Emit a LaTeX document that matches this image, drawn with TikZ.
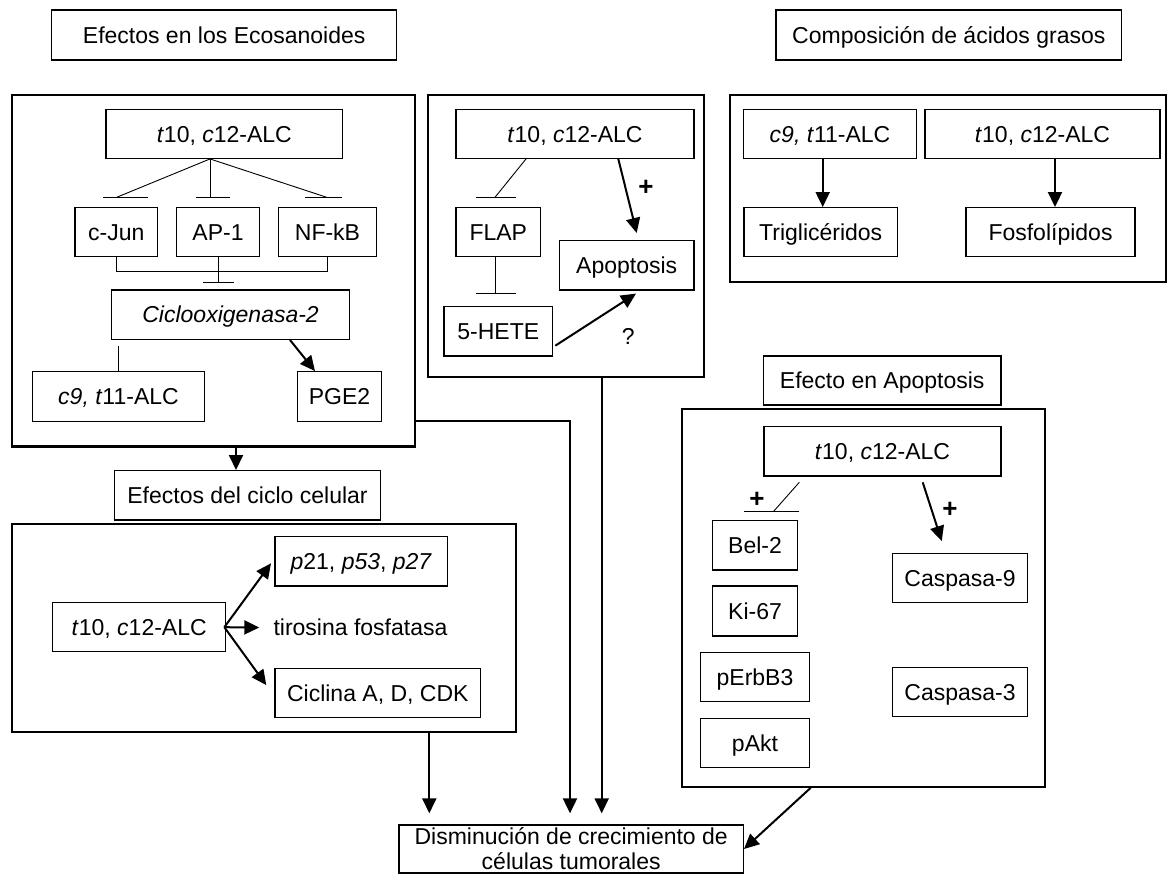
\documentclass[tikz,border=0pt]{standalone}
\usepackage{fontspec}
\setmainfont{Liberation Sans}
\usetikzlibrary{arrows.meta}
\newcommand\figfont{\fontsize{23}{27}\selectfont}
\begin{document}
\begin{tikzpicture}[x=1pt,y=-1pt,
  bx/.style={draw, line width=1.3pt, inner sep=0pt, font=\figfont, text height=16.5pt, text depth=0pt},
  panel/.style={draw, line width=2.2pt, inner sep=0pt},
  txt/.style={font=\figfont, inner sep=0pt, text height=16.5pt, text depth=0pt},
  sign/.style={font=\fontsize{26}{28}\selectfont\bfseries, inner sep=0pt},
  inh/.style={line width=0.9pt},
  arr/.style={line width=2pt, -{Triangle[length=15pt,width=14pt]}}]
\useasboundingbox (0,0) rectangle (1169,874);

% ---------- titles ----------
\node[bx, minimum width=345, minimum height=50] (tEco) at (224.2,35) {Efectos en los Ecosanoides};
\node[bx, minimum width=345.7, minimum height=50] (tComp) at (948.8,35) {Composición de ácidos grasos};
\node[bx, minimum width=266.4, minimum height=49.3] (tCiclo) at (247.5,495.3) {Efectos del ciclo celular};
\node[bx, minimum width=237.7, minimum height=49] (tApop) at (882.2,380.5) {Efecto en Apoptosis};

% ---------- panels ----------
\node[panel, minimum width=403.3, minimum height=351.5] (pEco) at (213.35,270.75) {};
\node[panel, minimum width=275.7, minimum height=281.7] (pMid) at (566.15,235.85) {};
\node[panel, minimum width=436, minimum height=186.7] (pComp) at (948,188.35) {};
\node[panel, minimum width=504.3, minimum height=207.7] (pCiclo) at (263.85,627.85) {};
\node[panel, minimum width=363.3, minimum height=377.4] (pApop) at (863.35,598) {};

% ---------- Eicosanoid panel ----------
\node[bx, minimum width=236.7, minimum height=49] (eALC) at (224.3,133.8) {\textit{t}10, \textit{c}12-ALC};
\node[bx, minimum width=82.7, minimum height=49] (cJun) at (116.3,232.2) {c-Jun};
\node[bx, minimum width=82.6, minimum height=49] (AP1) at (218,232.2) {AP-1};
\node[bx, minimum width=98.4, minimum height=49] (NFkB) at (327.5,232.2) {NF-kB};
\node[bx, minimum width=237.8, minimum height=49.3] (COX) at (230.6,314.7) {\textit{Ciclooxigenasa-2}};
\node[bx, minimum width=172.6, minimum height=50] (c9) at (118.5,396.7) {\textit{c9, t}11-ALC};
\node[bx, minimum width=84.1, minimum height=50] (PGE2) at (339.5,396.7) {PGE2};

\coordinate (eo) at ([xshift=-14.3pt]eALC.south);
\coordinate (hJ) at (116.7,197.3);
\coordinate (hA) at (210,197.3);
\coordinate (hN) at (326.7,197.3);
\draw[inh] (eo) -- (hJ);
\draw[inh] (eo) -- (hA);
\draw[inh] (eo) -- (hN);
\draw[inh] (103,197.3) -- (148,197.3);
\draw[inh] (196,197.3) -- (230,197.3);
\draw[inh] (305,197.3) -- (341.7,197.3);
\draw[inh] (cJun.south) -- ++(0,14) -| (NFkB.south);
\draw[inh] (AP1.south) -- ++(0,25) coordinate (hC);
\draw[inh] ([xshift=-15pt]hC) -- ([xshift=16pt]hC);
\draw[inh] (c9.north) -- ++(0,-25);
\draw[arr] ([xshift=59.4pt]COX.south) -- ([xshift=-24.5pt]PGE2.north);

% ---------- middle panel ----------
\node[bx, minimum width=238, minimum height=49] (mALC) at (575,133.8) {\textit{t}10, \textit{c}12-ALC};
\node[bx, minimum width=84.7, minimum height=49] (FLAP) at (498.3,232.2) {FLAP};
\node[bx, minimum width=108.7, minimum height=49.3] (HETE) at (498.3,331.3) {5-HETE};
\node[bx, minimum width=134.7, minimum height=49.3] (ApopB) at (626.7,265.3) {Apoptosis};
\coordinate (hF) at (495,197.3);
\draw[inh] ([xshift=-49pt]mALC.south) -- (hF);
\draw[inh] (476,197.3) -- (516,197.3);
\draw[inh] ([xshift=-3.3pt]FLAP.south) -- ++(0,36.6) coordinate (hH);
\draw[inh] ([xshift=-19pt]hH) -- ([xshift=21pt]hH);
\draw[arr] ([xshift=43.3pt]mALC.south) -- ([xshift=10pt,yshift=7pt]ApopB.north);
\node[sign] (plus1) at (646,188) {+};
\draw[arr] ([xshift=2pt,yshift=-14.4pt]HETE.east) -- ([xshift=9.3pt,yshift=-3pt]ApopB.south);
\node[txt] (qm) at (628.3,336.7) {?};

% ---------- fatty acid composition ----------
\node[bx, minimum width=173.4, minimum height=49] (cc9) at (830,133.8) {\textit{c9, t}11-ALC};
\node[bx, minimum width=235, minimum height=49] (ct10) at (1042.5,133.8) {\textit{t}10, \textit{c}12-ALC};
\node[bx, minimum width=153.3, minimum height=49] (Trig) at (820.7,232.2) {Triglicéridos};
\node[bx, minimum width=169, minimum height=49] (Fosf) at (1050.5,232.2) {Fosfolípidos};
\draw[arr] ([xshift=2pt]Trig.north |- cc9.south) -- ([xshift=2pt]Trig.north);
\draw[arr] ([xshift=4.5pt]Fosf.north |- ct10.south) -- ([xshift=4.5pt]Fosf.north);

% ---------- cell cycle ----------
\node[bx, minimum width=173, minimum height=49] (cALC) at (139.2,627.2) {\textit{t}10, \textit{c}12-ALC};
\node[bx, minimum width=172.7, minimum height=49.3] (p21) at (361.3,561.3) {\textit{p}21, \textit{p53}, \textit{p27}};
\node[txt, anchor=west] (tiro) at (273.3,627.5) {tirosina fosfatasa};
\node[bx, minimum width=205.7, minimum height=49.2] (Cicl) at (377.8,693.1) {Ciclina A, D, CDK};
\draw[arr] ([xshift=-2pt]cALC.east) -- ([xshift=-3.3pt,yshift=-2pt]p21.west);
\draw[arr] ([xshift=-2pt]cALC.east) -- ([xshift=-14pt]tiro.west);
\draw[arr] ([xshift=-2pt]cALC.east) -- ([xshift=-8pt,yshift=8pt]Cicl.west);

% ---------- apoptosis ----------
\node[bx, minimum width=237, minimum height=49.3] (aALC) at (882.5,451.3) {\textit{t}10, \textit{c}12-ALC};
\node[bx, minimum width=84.6, minimum height=49.3] (Bel) at (755,545.3) {Bel-2};
\node[bx, minimum width=84.6, minimum height=50] (Ki) at (755,611) {Ki-67};
\node[bx, minimum width=108.6, minimum height=49.4] (Erb) at (755,677) {pErbB3};
\node[bx, minimum width=108.6, minimum height=49] (Akt) at (755,742.8) {pAkt};
\node[bx, minimum width=134.6, minimum height=49.4] (C9) at (960,578) {Caspasa-9};
\node[bx, minimum width=134.6, minimum height=49] (C3) at (960,692.2) {Caspasa-3};
\coordinate (hB) at (773.3,511.7);
\draw[inh] ([xshift=-83.2pt,yshift=-5.7pt]aALC.south) -- (hB);
\draw[inh] (744,511.7) -- (799.3,511.7);
\node[sign] (plus2) at (757,500) {+};
\draw[arr] ([xshift=40.2pt,yshift=-5.7pt]aALC.south) -- ([xshift=-18.3pt,yshift=11.6pt]C9.north);
\node[sign] (plus3) at (950,510) {+};

% ---------- bottom ----------
\node[draw, line width=1.3pt, inner sep=0pt, minimum width=344.3, minimum height=48] (dis) at (571.2,849) {};
\node[font=\figfont, inner sep=0pt, anchor=base] (dis1) at (571.2,844) {Disminución de crecimiento de};
\node[font=\figfont, inner sep=0pt, anchor=base] (dis2) at (571.2,869) {células tumorales};

\draw[arr] (pEco.south -| tCiclo.north) ++(-11.5,0) coordinate (ec1) -- ([xshift=-11.5pt]tCiclo.north);
\coordinate (d1) at ([xshift=-141.9pt,yshift=11pt]dis.north);
\coordinate (d2) at ([xshift=-1.2pt,yshift=11pt]dis.north);
\coordinate (d3) at ([xshift=30.5pt,yshift=11pt]dis.north);
\draw[arr] (pCiclo.south -| d1) -- (d1);
\draw[arr] (pEco.east |- 0,420.7) -| (d2);
\draw[arr] (pMid.south -| d3) -- (d3);
\draw[arr] ([xshift=-52.65pt]pApop.south) -- (dis.east);
\end{tikzpicture}
\end{document}
